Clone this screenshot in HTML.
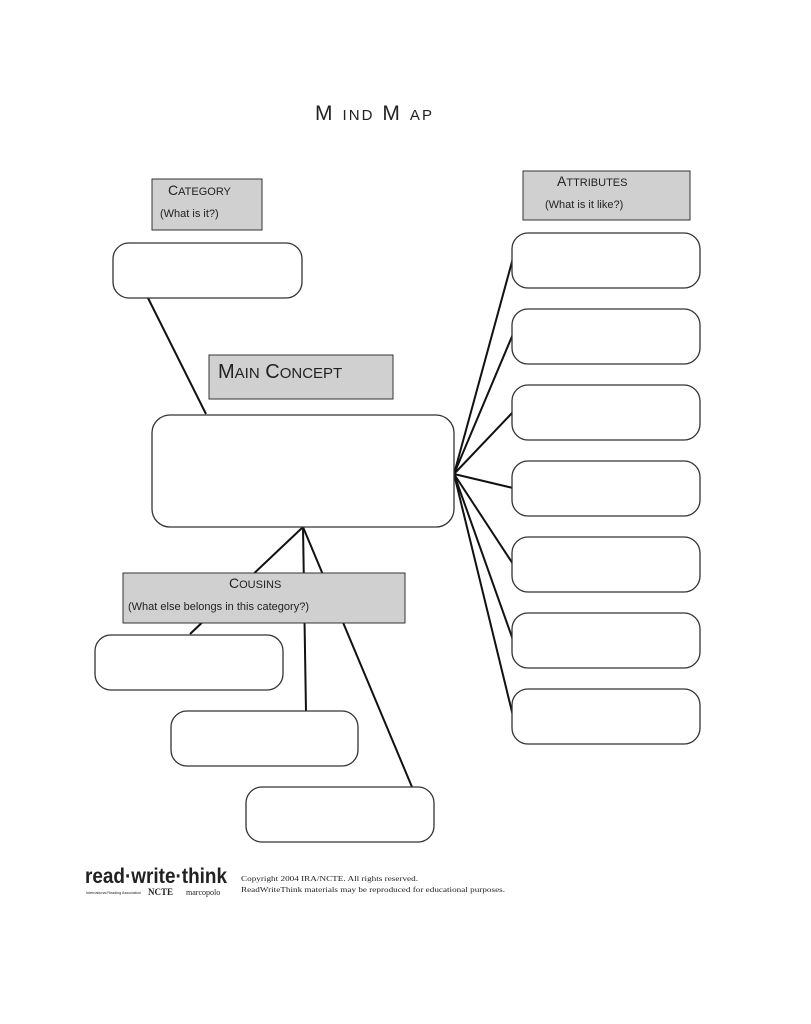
<!DOCTYPE html>
<html><head><style>
body{margin:0;background:#fff;}
.t{font-family:"Liberation Sans",Arial,sans-serif;}
</style></head><body>
<svg width="811" height="1024" xmlns="http://www.w3.org/2000/svg" style="display:block">
<rect width="811" height="1024" fill="#fff"/>
<text x="315" y="120" class="t" font-size="21" fill="#222" textLength="117" lengthAdjust="spacing">M <tspan font-size="15">IND</tspan>  M <tspan font-size="15">AP</tspan></text>
<g stroke="#111" stroke-width="2" fill="none">
<line x1="148" y1="298" x2="206" y2="414"/>
<line x1="454" y1="474" x2="513" y2="258"/>
<line x1="454" y1="474" x2="513" y2="334"/>
<line x1="454" y1="474" x2="513" y2="412"/>
<line x1="454" y1="474" x2="513" y2="488"/>
<line x1="454" y1="474" x2="513" y2="564"/>
<line x1="454" y1="474" x2="513" y2="640"/>
<line x1="454" y1="474" x2="513" y2="716"/>
<line x1="303" y1="527" x2="190" y2="634"/>
<line x1="303" y1="527" x2="306" y2="712"/>
<line x1="303" y1="527" x2="412" y2="787"/>
</g>
<g fill="#d0d0d0" stroke="#333" stroke-width="1">
<rect x="152" y="179" width="110" height="51"/>
<rect x="523" y="171" width="167" height="49"/>
<rect x="209" y="355" width="184" height="44"/>
<rect x="123" y="573" width="282" height="50"/>
</g>
<g fill="#fff" stroke="#333" stroke-width="1.3">
<rect x="113" y="243" width="189" height="55" rx="16"/>
<rect x="152" y="415" width="302" height="112" rx="18"/>
<rect x="512" y="233" width="188" height="55" rx="16"/>
<rect x="512" y="309" width="188" height="55" rx="16"/>
<rect x="512" y="385" width="188" height="55" rx="16"/>
<rect x="512" y="461" width="188" height="55" rx="16"/>
<rect x="512" y="537" width="188" height="55" rx="16"/>
<rect x="512" y="613" width="188" height="55" rx="16"/>
<rect x="512" y="689" width="188" height="55" rx="16"/>
<rect x="95" y="635" width="188" height="55" rx="16"/>
<rect x="171" y="711" width="187" height="55" rx="16"/>
<rect x="246" y="787" width="188" height="55" rx="16"/>
</g>
<g class="t" fill="#222">
<text x="168" y="195" font-size="14">C<tspan font-size="11">ATEGORY</tspan></text>
<text x="160" y="217" font-size="11">(What is it?)</text>
<text x="557" y="186" font-size="14">A<tspan font-size="11">TTRIBUTES</tspan></text>
<text x="545" y="208" font-size="11">(What is it like?)</text>
<text x="218" y="378" font-size="20">M<tspan font-size="15">AIN</tspan> C<tspan font-size="15">ONCEPT</tspan></text>
<text x="229" y="588" font-size="14">C<tspan font-size="11">OUSINS</tspan></text>
<text x="128" y="610" font-size="11">(What else belongs in this category?)</text>
<text x="85" y="883" font-size="21" font-weight="bold" textLength="142" lengthAdjust="spacingAndGlyphs">read·write·think</text>
<text x="86" y="894" font-size="4" textLength="55" lengthAdjust="spacingAndGlyphs">International Reading Association</text>
<text x="148" y="895" font-size="9" font-weight="bold" font-family="Liberation Serif,serif">NCTE</text>
<text x="186" y="895" font-size="8" font-family="Liberation Serif,serif">marcopolo</text>
<text x="241" y="881" font-size="7.5" font-family="Liberation Serif,serif" textLength="177" lengthAdjust="spacingAndGlyphs">Copyright 2004 IRA/NCTE. All rights reserved.</text>
<text x="241" y="892" font-size="7.5" font-family="Liberation Serif,serif" textLength="264" lengthAdjust="spacingAndGlyphs">ReadWriteThink materials may be reproduced for educational purposes.</text>
</g>
</svg>
</body></html>
